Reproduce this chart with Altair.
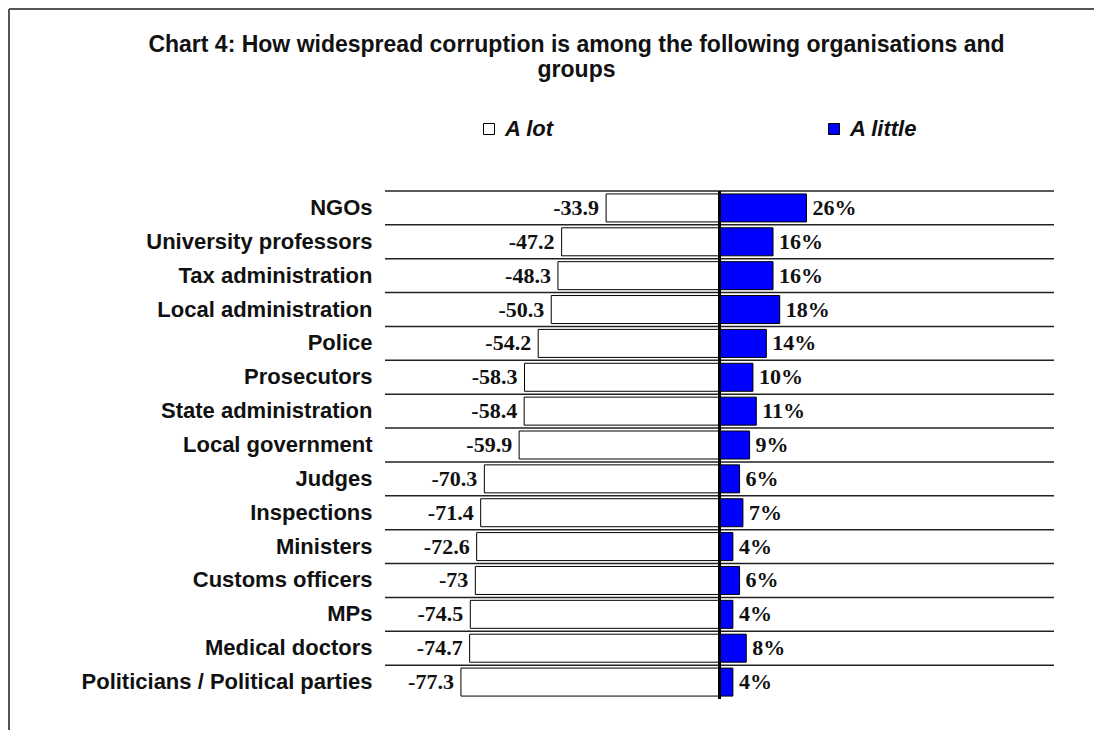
import altair as alt
import pandas as pd

categories = [
    "NGOs", "University professors", "Tax administration", "Local administration",
    "Police", "Prosecutors", "State administration", "Local government", "Judges",
    "Inspections", "Ministers", "Customs officers", "MPs", "Medical doctors",
    "Politicians / Political parties",
]
a_lot = [-33.9, -47.2, -48.3, -50.3, -54.2, -58.3, -58.4, -59.9, -70.3, -71.4,
         -72.6, -73, -74.5, -74.7, -77.3]
a_little = [26, 16, 16, 18, 14, 10, 11, 9, 6, 7, 4, 6, 4, 8, 4]
series_names = ["A lot", "A little"]
series_colors = ["#FFFFFF", "#0000FF"]
title_lines = [
    "Chart 4:  How widespread corruption is among the following organisations and",
    "groups",
]

rows = []
for c, v in zip(categories, a_lot):
    rows.append({"category": c, "series": "A lot", "value": v, "label": f"{v:g}"})
for c, v in zip(categories, a_little):
    rows.append({"category": c, "series": "A little", "value": v, "label": f"{v:g}%"})
df = pd.DataFrame(rows)

W, H = 669, 508
STEP = H / len(categories)

ydef = alt.Y(
    "category:N", sort=categories,
    scale=alt.Scale(paddingInner=0, paddingOuter=0),
    axis=alt.Axis(title=None, domain=False, ticks=False, grid=False,
                  labelFont="Liberation Sans", labelFontWeight="bold", labelFontSize=22,
                  labelColor="#111111", labelPadding=13, labelLimit=0),
)
xdef = alt.X("value:Q", scale=alt.Scale(domain=[-100, 100]), axis=None)

base = alt.Chart(df)

# row separator lines at the top of each band
separators = base.transform_filter(alt.datum.series == "A lot").mark_rule(
    color="#222222", strokeWidth=1.5, yOffset=-STEP / 2,
).encode(y=ydef)

bars = base.mark_bar(height=28, stroke="black", strokeWidth=1).encode(
    x=xdef, y=ydef,
    color=alt.Color(
        "series:N",
        scale=alt.Scale(domain=series_names, range=series_colors),
        legend=alt.Legend(
            title=None, orient="none", legendX=93, legendY=-73, direction="horizontal",
            symbolType="square", symbolSize=121, symbolStrokeColor="black",
            symbolStrokeWidth=1, labelFont="Liberation Sans", labelFontWeight="bold",
            labelFontStyle="italic", labelFontSize=22, labelColor="#111111",
            columnPadding=269, labelOffset=5,
        ),
    ),
)

left_text = base.transform_filter(alt.datum.series == "A lot").mark_text(
    align="right", dx=-7, font="Liberation Serif", fontWeight="bold", fontSize=22,
    color="#111111",
).encode(x=xdef, y=ydef, text="label:N")

right_text = base.transform_filter(alt.datum.series == "A little").mark_text(
    align="left", dx=6, font="Liberation Serif", fontWeight="bold", fontSize=22,
    color="#111111",
).encode(x=xdef, y=ydef, text="label:N")

center = base.transform_calculate(zero="0").mark_rule(color="black", strokeWidth=1.5).encode(
    x=alt.X("zero:Q", scale=alt.Scale(domain=[-100, 100]), axis=None))

one = alt.Chart(pd.DataFrame({"z": [0]}))
border_left = one.mark_rule(color="#555555", strokeWidth=2).encode(
    x=alt.value(-376), y=alt.value(-182), y2=alt.value(539))
border_top = one.mark_rule(color="#555555", strokeWidth=2).encode(
    x=alt.value(-376), x2=alt.value(709), y=alt.value(-182))

chart = alt.layer(border_left, border_top, separators, bars, center, left_text, right_text).properties(
    width=W, height=H, padding=0,
    title=alt.TitleParams(
        text=title_lines, font="Liberation Sans", fontWeight="bold", fontSize=23,
        color="#111111", anchor="middle", offset=-74, dx=-143,
    ),
).configure_view(strokeWidth=0)

chart.save("out.html", embed_options={"renderer": "svg", "actions": False})
